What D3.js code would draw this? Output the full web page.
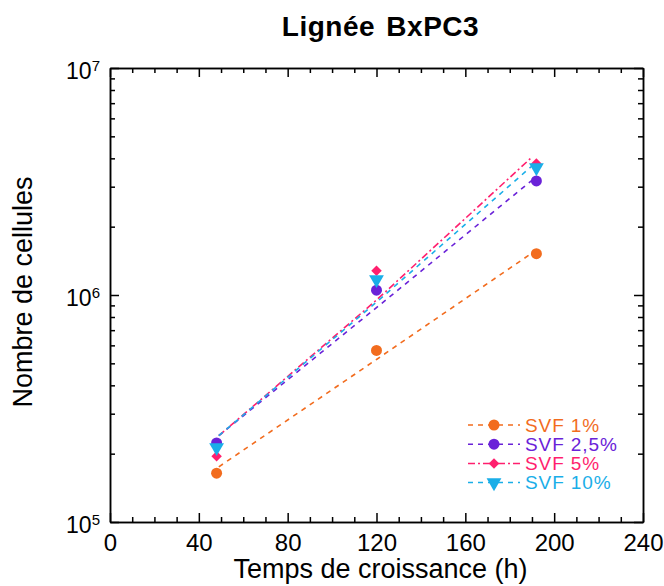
<!DOCTYPE html>
<html>
<head>
<meta charset="utf-8">
<script src="https://cdn.jsdelivr.net/npm/d3@7"></script>
<style>
  body { margin: 0; background: #fff; }
  svg { font-family: "Liberation Sans", Arial, sans-serif; }
  .axis path, .axis line { stroke: #000; stroke-width: 1.5; }
</style>
</head>
<body>
<div id="chart"></div>
<script>
// measured points (time in h, cell count)
var times = [48, 120, 192]
var svf1 = [164000, 570000, 1520000]
var svf25 = [223000, 1050000, 3180000]
var svf5 = [195000, 1280000, 3800000]
var svf10 = [213000, 1170000, 3640000]

// dashed trend curves
var fitTimes = [49, 120, 190]
var fit1 = [175000, 520000, 1530000]
var fit25 = [240000, 880000, 3200000]
var fit5 = [240000, 950000, 4050000]
var fit10 = [240000, 930000, 3700000]

var seriesNames = ['SVF 1%', 'SVF 2,5%', 'SVF 5%', 'SVF 10%']
var xTicks = [0, 40, 80, 120, 160, 200, 240]

var series = [
  { name: seriesNames[0], pts: svf1, fit: fit1, color: '#f26c1e', symbol: d3.symbolCircle, size: 95, rot: 0, dash: '5,5' },
  { name: seriesNames[1], pts: svf25, fit: fit25, color: '#6a22d8', symbol: d3.symbolCircle, size: 95, rot: 0, dash: '5,5' },
  { name: seriesNames[2], pts: svf5, fit: fit5, color: '#ff1f6e', symbol: d3.symbolSquare, size: 55, rot: 45, dash: '7,3,2,3' },
  { name: seriesNames[3], pts: svf10, fit: fit10, color: '#1aaee8', symbol: d3.symbolTriangle, size: 95, rot: 180, dash: '5,5' }
]

var margin = { top: 68, right: 21, bottom: 64, left: 110 }
var W = 664, H = 586
var w = W - margin.left - margin.right
var h = H - margin.top - margin.bottom

var svg = d3.select('#chart').append('svg')
    .attr('width', W)
    .attr('height', H)
  .append('g')
    .attr('transform', 'translate(' + margin.left + ',' + margin.top + ')')

var x = d3.scaleLinear().domain([0, 240]).range([0, w])
var y = d3.scaleLog().domain([1e5, 1e7]).range([h, 0])

var xMinor = d3.range(0, 241, 10).filter(function (d) { return d % 40 != 0 })
var yMajor = [1e5, 1e6, 1e7]
var yMinor = []
;[1e5, 1e6].forEach(function (b) { for (var k = 2; k < 10; k++) yMinor.push(k * b) })

// bottom axis
svg.append('g').attr('class', 'axis')
    .attr('transform', 'translate(0,' + h + ')')
    .call(d3.axisBottom(x).tickValues(xTicks).tickSizeInner(-9).tickSizeOuter(0).tickPadding(12))
  .selectAll('text').style('font-size', '24px').attr('fill', '#000')
svg.append('g').attr('class', 'axis')
    .attr('transform', 'translate(0,' + h + ')')
    .call(d3.axisBottom(x).tickValues(xMinor).tickSizeInner(-5).tickSizeOuter(0).tickFormat(''))
// top axis
svg.append('g').attr('class', 'axis')
    .call(d3.axisTop(x).tickValues(xTicks).tickSizeInner(-9).tickSizeOuter(0).tickFormat(''))
svg.append('g').attr('class', 'axis')
    .call(d3.axisTop(x).tickValues(xMinor).tickSizeInner(-5).tickSizeOuter(0).tickFormat(''))

// left axis
var yl = svg.append('g').attr('class', 'axis')
    .call(d3.axisLeft(y).tickValues(yMajor).tickSizeInner(-9).tickSizeOuter(0).tickPadding(10).tickFormat(''))
yl.selectAll('.tick text')
    .style('font-size', '23px').attr('fill', '#000').attr('dy', '0.45em')
    .each(function (d) {
      var t = d3.select(this)
      t.text('10')
      t.append('tspan').attr('dy', '-0.55em').style('font-size', '15px').text(Math.round(Math.log10(d)))
    })
svg.append('g').attr('class', 'axis')
    .call(d3.axisLeft(y).tickValues(yMinor).tickSizeInner(-5).tickSizeOuter(0).tickFormat(''))
// right axis
svg.append('g').attr('class', 'axis')
    .attr('transform', 'translate(' + w + ',0)')
    .call(d3.axisRight(y).tickValues(yMajor).tickSizeInner(-9).tickSizeOuter(0).tickFormat(''))
svg.append('g').attr('class', 'axis')
    .attr('transform', 'translate(' + w + ',0)')
    .call(d3.axisRight(y).tickValues(yMinor).tickSizeInner(-5).tickSizeOuter(0).tickFormat(''))

// trend lines
var line = d3.line()
  .x(function (d) { return x(d[0]) })
  .y(function (d) { return y(d[1]) })

series.forEach(function (s) {
  svg.append('path')
    .datum(fitTimes.map(function (t, i) { return [t, s.fit[i]] }))
    .attr('d', line)
    .attr('fill', 'none')
    .attr('stroke', s.color)
    .attr('stroke-width', 1.6)
    .attr('stroke-dasharray', s.dash)
})

// markers
series.forEach(function (s) {
  svg.selectAll(null)
    .data(times.map(function (t, i) { return [t, s.pts[i]] }))
    .enter().append('path')
      .attr('d', d3.symbol().type(s.symbol).size(s.size))
      .attr('transform', function (d) { return 'translate(' + x(d[0]) + ',' + y(d[1]) + ') rotate(' + s.rot + ')' })
      .attr('fill', s.color)
})

// legend
var legend = svg.selectAll('.legend')
    .data(series)
  .enter().append('g')
    .attr('class', 'legend')
    .attr('transform', function (d, i) { return 'translate(' + (358) + ',' + (357 + i * 19.2) + ')' })

legend.append('line')
    .attr('x1', 0).attr('x2', 52)
    .attr('stroke', function (d) { return d.color })
    .attr('stroke-width', 1.5)
    .attr('stroke-dasharray', function (d) { return d.dash })
legend.append('path')
    .attr('d', function (d) { return d3.symbol().type(d.symbol).size(d.size)() })
    .attr('transform', function (d) { return 'translate(26,0) rotate(' + d.rot + ')' })
    .attr('fill', function (d) { return d.color })
legend.append('text')
    .attr('x', 57)
    .attr('dy', '0.36em')
    .style('font-size', '19px')
    .style('letter-spacing', '0.9px')
    .attr('fill', function (d) { return d.color })
    .text(function (d) { return d.name })

// titles
svg.append('text')
    .attr('x', w / 2 + 4)
    .attr('y', -32)
    .style('text-anchor', 'middle')
    .style('font-size', '28px')
    .style('font-weight', 'bold')
    .style('letter-spacing', '0.5px')
    .style('word-spacing', '3px')
    .text('Lignée BxPC3')

svg.append('text')
    .attr('x', w / 2 + 4)
    .attr('y', h + 56)
    .style('text-anchor', 'middle')
    .style('font-size', '27px')
    .text('Temps de croissance (h)')

svg.append('text')
    .attr('transform', 'rotate(-90)')
    .attr('x', -h / 2 + 3)
    .attr('y', -78)
    .style('text-anchor', 'middle')
    .style('font-size', '27px')
    .text('Nombre de cellules')
</script>
</body>
</html>
